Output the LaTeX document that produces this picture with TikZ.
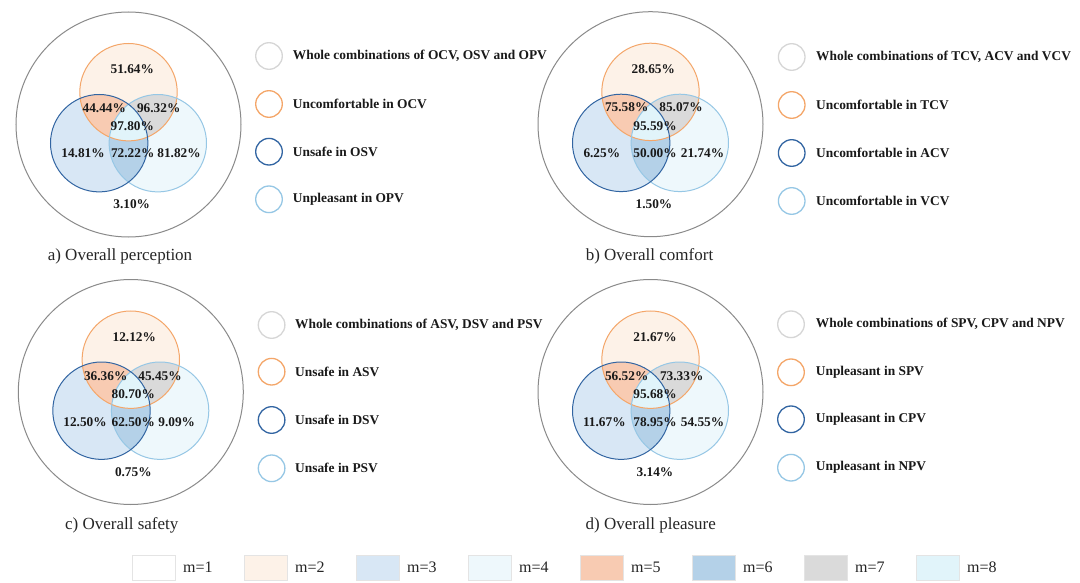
\documentclass[tikz,border=0pt]{standalone}
\usepackage{fontspec}
\setmainfont{Liberation Serif}
\definecolor{cmone}{HTML}{FFFFFF}
\definecolor{cmtwo}{HTML}{FDF2E8}
\definecolor{cmthree}{HTML}{D8E7F5}
\definecolor{cmfour}{HTML}{EEF8FC}
\definecolor{cmfive}{HTML}{F8CBB2}
\definecolor{cmsix}{HTML}{B4D1E8}
\definecolor{cmseven}{HTML}{DADADA}
\definecolor{cmeight}{HTML}{E1F4FA}
\definecolor{ringgray}{HTML}{8A8A8A}
\definecolor{leggray}{HTML}{D6D6D6}
\definecolor{orangeline}{HTML}{F4A669}
\definecolor{darkblueline}{HTML}{3265A2}
\definecolor{lightblueline}{HTML}{96C7E5}
\definecolor{boxline}{HTML}{E4E4E4}
\tikzset{
  pct/.style={font=\fontsize{13.3}{15}\selectfont\bfseries, inner sep=0pt, text=black!90},
  legtext/.style={font=\fontsize{13.4}{15}\selectfont\bfseries, anchor=west, inner sep=0pt, text=black!90},
  captext/.style={font=\fontsize{17}{19}\selectfont, inner sep=0pt, text=black!85},
  mtext/.style={font=\fontsize{16}{18}\selectfont, anchor=west, inner sep=0pt, text=black!85},
  outerring/.style={draw=ringgray, line width=1pt},
  orangering/.style={draw=orangeline, line width=1pt},
  darkring/.style={draw=darkblueline, line width=1pt},
  lightring/.style={draw=lightblueline, line width=1pt},
  legcircle/.style={circle, minimum size=26.6pt, inner sep=0pt, fill=white, line width=1.3pt},
  mbox/.style={draw=boxline, line width=0.8pt, minimum width=43pt, minimum height=25pt, inner sep=0pt, anchor=north west},
}
\newcommand\vennpanel[3]{%
\begin{scope}[shift={(#2,#3)}]
  \coordinate (#1O) at (0,0);
  \coordinate (#1A) at (0,-32.3);
  \coordinate (#1B) at (-29.3,18.7);
  \coordinate (#1D) at (29.3,18.7);
  \draw[outerring, fill=cmone] (#1O) circle[radius=112.5pt];
  \fill[cmtwo] (#1A) circle[radius=48.7pt];
  \fill[cmthree] (#1B) circle[radius=48.7pt];
  \fill[cmfour] (#1D) circle[radius=48.7pt];
  \begin{scope}
    \clip (#1B) circle[radius=48.7pt];
    \fill[cmsix] (#1D) circle[radius=48.7pt];
  \end{scope}
  \begin{scope}
    \clip (#1A) circle[radius=48.7pt];
    \fill[cmfive] (#1B) circle[radius=48.7pt];
    \fill[cmseven] (#1D) circle[radius=48.7pt];
    \clip (#1B) circle[radius=48.7pt];
    \fill[cmeight] (#1D) circle[radius=48.7pt];
  \end{scope}
  \draw[orangering] (#1A) circle[radius=48.7pt];
  \draw[lightring] (#1D) circle[radius=48.7pt];
  \draw[darkring] (#1B) circle[radius=48.7pt];
\end{scope}}
\newcommand\pctlabel[4]{\node[pct] (#1) at (#2,#3) {#4};}
\begin{document}
\begin{tikzpicture}[x=1pt,y=-1pt]
\useasboundingbox[fill=white] (0,0) rectangle (1080,583);

% ---------- panel a ----------
\vennpanel{pa}{128.5}{124.5}
\pctlabel{pa1}{132.3}{69}{51.64\%}
\pctlabel{pa2}{104.3}{107.7}{44.44\%}
\pctlabel{pa3}{158.7}{107.7}{96.32\%}
\pctlabel{pa4}{132.3}{126}{97.80\%}
\pctlabel{pa5}{83}{153}{14.81\%}
\pctlabel{pa6}{132.7}{153}{72.22\%}
\pctlabel{pa7}{179}{153}{81.82\%}
\pctlabel{pa8}{131.7}{204}{3.10\%}
\node[captext] (capa) at (120,256.7) {a) Overall perception};
\node[legcircle, draw=leggray] (la1) at (269,56) {};
\node[legcircle, draw=orangeline] (la2) at (269,104) {};
\node[legcircle, draw=darkblueline] (la3) at (269,151.7) {};
\node[legcircle, draw=lightblueline] (la4) at (269,199.3) {};
\node[legtext] (ta1) at (292.7,56) {Whole combinations of OCV, OSV and OPV};
\node[legtext] (ta2) at (292.7,104) {Uncomfortable in OCV};
\node[legtext] (ta3) at (292.7,151.7) {Unsafe in OSV};
\node[legtext] (ta4) at (292.7,199.3) {Unpleasant in OPV};

% ---------- panel b ----------
\vennpanel{pb}{650.5}{124.2}
\pctlabel{pb1}{653.3}{69.3}{28.65\%}
\pctlabel{pb2}{626.7}{107.3}{75.58\%}
\pctlabel{pb3}{681}{107.3}{85.07\%}
\pctlabel{pb4}{655}{126}{95.59\%}
\pctlabel{pb5}{601.8}{153.3}{6.25\%}
\pctlabel{pb6}{655}{153.3}{50.00\%}
\pctlabel{pb7}{702.5}{153.3}{21.74\%}
\pctlabel{pb8}{654}{204}{1.50\%}
\node[captext] (capb) at (649.5,256.7) {b) Overall comfort};
\node[legcircle, draw=leggray] (lb1) at (791.7,57) {};
\node[legcircle, draw=orangeline] (lb2) at (791.7,105) {};
\node[legcircle, draw=darkblueline] (lb3) at (791.7,153) {};
\node[legcircle, draw=lightblueline] (lb4) at (791.7,201) {};
\node[legtext] (tb1) at (816,57) {Whole combinations of TCV, ACV and VCV};
\node[legtext] (tb2) at (816,105) {Uncomfortable in TCV};
\node[legtext] (tb3) at (816,153) {Uncomfortable in ACV};
\node[legtext] (tb4) at (816,201) {Uncomfortable in VCV};

% ---------- panel c ----------
\vennpanel{pc}{130.8}{392}
\pctlabel{pc1}{134.3}{336.7}{12.12\%}
\pctlabel{pc2}{105.7}{375.7}{36.36\%}
\pctlabel{pc3}{160}{375.7}{45.45\%}
\pctlabel{pc4}{133.3}{394}{80.70\%}
\pctlabel{pc5}{85}{421.7}{12.50\%}
\pctlabel{pc6}{133.3}{421.7}{62.50\%}
\pctlabel{pc7}{176.7}{421.7}{9.09\%}
\pctlabel{pc8}{133.3}{471.7}{0.75\%}
\node[captext] (capc) at (121.7,525) {c) Overall safety};
\node[legcircle, draw=leggray] (lc1) at (271.6,325) {};
\node[legcircle, draw=orangeline] (lc2) at (271.6,371.7) {};
\node[legcircle, draw=darkblueline] (lc3) at (271.6,420) {};
\node[legcircle, draw=lightblueline] (lc4) at (271.6,468.3) {};
\node[legtext] (tc1) at (295,325) {Whole combinations of ASV, DSV and PSV};
\node[legtext] (tc2) at (295,371.7) {Unsafe in ASV};
\node[legtext] (tc3) at (295,420) {Unsafe in DSV};
\node[legtext] (tc4) at (295,468.3) {Unsafe in PSV};

% ---------- panel d ----------
\vennpanel{pd}{650.5}{392}
\pctlabel{pd1}{655}{336.7}{21.67\%}
\pctlabel{pd2}{626.7}{375.7}{56.52\%}
\pctlabel{pd3}{681.7}{375.7}{73.33\%}
\pctlabel{pd4}{655}{394.3}{95.68\%}
\pctlabel{pd5}{604.3}{421.7}{11.67\%}
\pctlabel{pd6}{655}{421.7}{78.95\%}
\pctlabel{pd7}{702.5}{421.7}{54.55\%}
\pctlabel{pd8}{655}{471.7}{3.14\%}
\node[captext] (capd) at (650.8,525) {d) Overall pleasure};
\node[legcircle, draw=leggray] (ld1) at (791,324.3) {};
\node[legcircle, draw=orangeline] (ld2) at (791,372.3) {};
\node[legcircle, draw=darkblueline] (ld3) at (791,419.3) {};
\node[legcircle, draw=lightblueline] (ld4) at (791,467.7) {};
\node[legtext] (td1) at (815.7,324.3) {Whole combinations of SPV, CPV and NPV};
\node[legtext] (td2) at (815.7,372.3) {Unpleasant in SPV};
\node[legtext] (td3) at (815.7,419.3) {Unpleasant in CPV};
\node[legtext] (td4) at (815.7,467.7) {Unpleasant in NPV};

% ---------- bottom legend ----------
\foreach \k/\c in {1/cmone,2/cmtwo,3/cmthree,4/cmfour,5/cmfive,6/cmsix,7/cmseven,8/cmeight}{
  \node[mbox, fill=\c] (mb\k) at ({132+112*(\k-1)},555) {};
  \node[mtext] (mt\k) at ({183+112*(\k-1)},567.5) {m=\k};
}
\end{tikzpicture}
\end{document}
